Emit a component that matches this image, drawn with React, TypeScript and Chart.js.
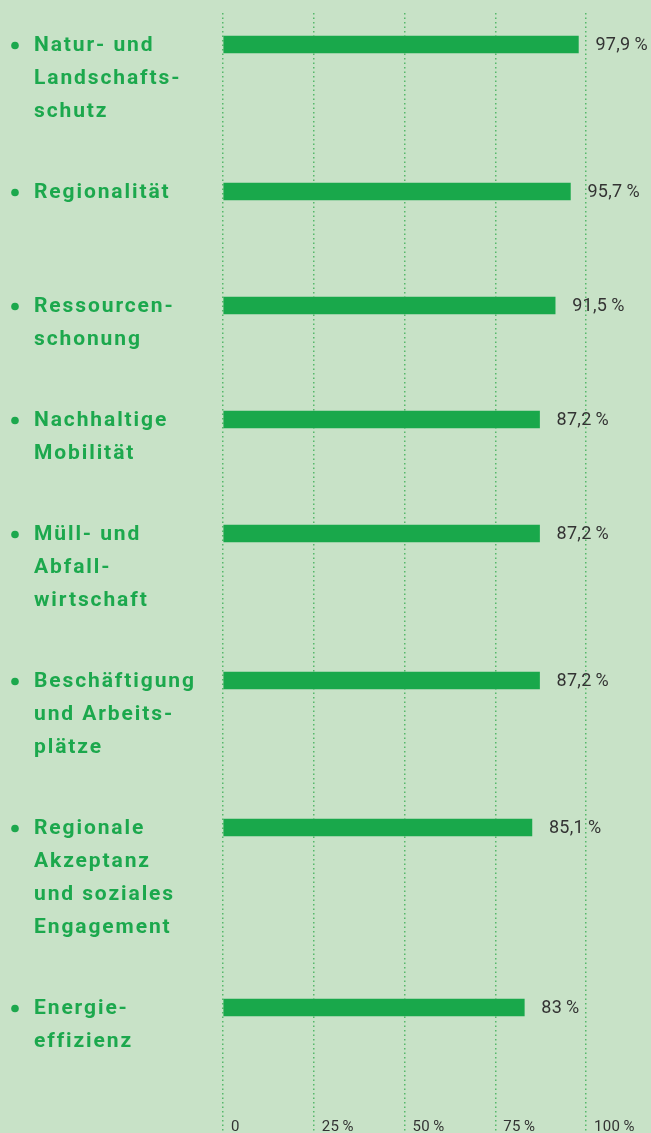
import React, { useEffect, useRef } from "react";
import { Chart, registerables } from "chart.js";

Chart.register(...registerables);

const categories: string[][] = [
  ["Natur- und", "Landschafts-", "schutz"],
  ["Regionalität"],
  ["Ressourcen-", "schonung"],
  ["Nachhaltige", "Mobilität"],
  ["Müll- und", "Abfall-", "wirtschaft"],
  ["Beschäftigung", "und Arbeits-", "plätze"],
  ["Regionale", "Akzeptanz", "und soziales", "Engagement"],
  ["Energie-", "effizienz"],
];

const values: number[] = [97.9, 95.7, 91.5, 87.2, 87.2, 87.2, 85.1, 83];

const xTickValues: number[] = [0, 25, 50, 75, 100];

const BG = "#c8e2c7";
const GREEN = "#19a84b";
const TEXT_GREEN = "#1ca84d";
const DARK = "#333333";
const GRID = "#55b86a";

const LINE_H = 33;
const ROW_GAP = 48;

// row positions derived from how many lines each label needs
const positions: number[] = [];
categories.reduce((acc, lines, i) => {
  positions[i] = acc;
  return acc + ROW_GAP + LINE_H * Math.max(lines.length, 2);
}, 0);

const fmt = (v: number) =>
  v.toLocaleString("de-DE", { maximumFractionDigits: 1 }) + "\u2009%";

const tickFmt = (v: number) => (v === 0 ? "0" : v + "\u2009%");

const labelPlugin = {
  id: "rowLabels",
  afterDatasetsDraw(chart: any) {
    const ctx = chart.ctx as CanvasRenderingContext2D;
    const meta = chart.getDatasetMeta(0);
    const xs = chart.scales.x;
    ctx.save();
    ctx.textAlign = "left";
    ctx.textBaseline = "middle";
    // x-axis tick labels, placed from the scale's own ticks
    ctx.font = "15px Roboto";
    ctx.fillStyle = DARK;
    (ctx as any).letterSpacing = "0.3px";
    xs.ticks.forEach((t: any) => {
      ctx.fillText(tickFmt(t.value), xs.getPixelForValue(t.value) + 8, chart.chartArea.bottom - 6);
    });
    meta.data.forEach((bar: any, i: number) => {
      const y = bar.y;
      // value label
      ctx.font = "18px Roboto";
      ctx.fillStyle = DARK;
      (ctx as any).letterSpacing = "0.3px";
      ctx.fillText(fmt(values[i]), bar.x + 17, y + 1);
      // bullet
      ctx.fillStyle = TEXT_GREEN;
      ctx.beginPath();
      ctx.arc(15, y + 1, 3.8, 0, Math.PI * 2);
      ctx.fill();
      // category text
      ctx.font = "bold 21px Roboto";
      (ctx as any).letterSpacing = "1.9px";
      categories[i].forEach((line, k) => {
        ctx.fillText(line, 34, y + 1 + k * LINE_H);
      });
    });
    ctx.restore();
  },
};

export default function App() {
  const ref = useRef<HTMLCanvasElement>(null);
  useEffect(() => {
    document.body.style.margin = "0";
    document.body.style.background = BG;
    const chart = new Chart(ref.current!, {
      type: "bar",
      data: {
        datasets: [
          {
            data: values.map((v, i) => ({ x: v, y: positions[i] })),
            backgroundColor: GREEN,
            borderWidth: 0,
            barThickness: 17,
          },
        ],
      },
      options: {
        indexAxis: "y",
        animation: false,
        responsive: false,
        devicePixelRatio: 1,
        layout: { padding: { left: 223, right: 65, top: 13, bottom: 0 } },
        plugins: { legend: { display: false }, tooltip: { enabled: false } },
        scales: {
          x: {
            type: "linear",
            position: "bottom",
            min: 0,
            max: 100,
            afterBuildTicks: (scale: any) => {
              scale.ticks = xTickValues.map((v) => ({ value: v }));
            },
            ticks: { display: false },
            grid: {
              color: GRID,
              lineWidth: 1.5,
              drawTicks: false,
            },
            border: { display: false, dash: [1.5, 3] },
          },
          y: {
            type: "linear",
            reverse: true,
            offset: false,
            min: -31.5,
            max: 1088.5,
            display: false,
            grid: { offset: false },
          },
        },
      } as any,
      plugins: [labelPlugin],
    });
    return () => chart.destroy();
  }, []);
  return (
    <div style={{ width: 651, height: 1133, background: BG }}>
      <canvas ref={ref} width={651} height={1133} style={{ display: "block" }} />
    </div>
  );
}
